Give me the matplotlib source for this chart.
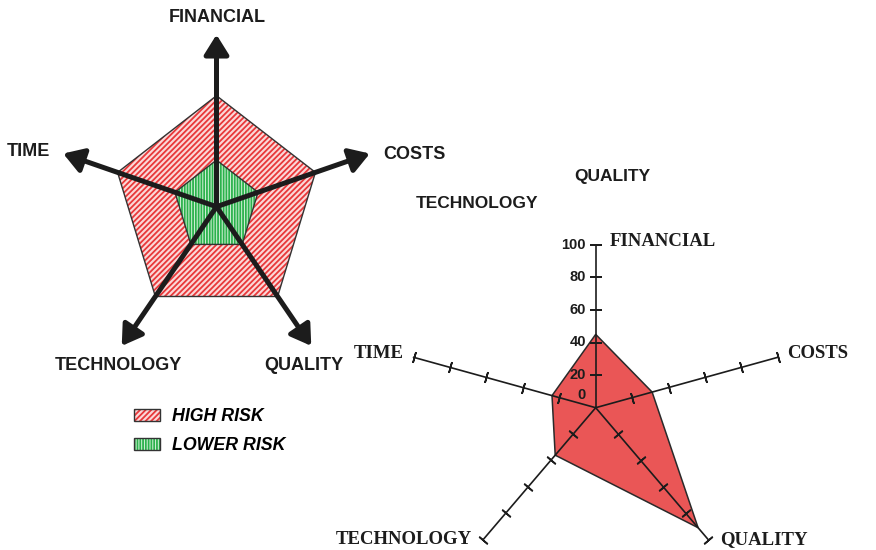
import numpy as np
import matplotlib
matplotlib.use("Agg")
import matplotlib.pyplot as plt
from matplotlib.patches import Polygon

# --- data ---------------------------------------------------------------
categories = ["FINANCIAL", "COSTS", "QUALITY", "TECHNOLOGY", "TIME"]
high_risk = [100, 100, 100, 100, 100]
lower_risk = [42, 42, 42, 42, 42]
scores = [45, 31, 91, 36, 24]
scale_ticks = [0, 20, 40, 60, 80, 100]
legend_labels = ["HIGH RISK", "LOWER RISK"]
stray_labels = ["QUALITY", "TECHNOLOGY"]

SANS = "Liberation Sans"
SERIF = "Liberation Serif"
INK = "#1c1c1c"
W, H = 876, 550

angles = np.radians(90 - 72 * np.arange(len(categories)))

plt.rcParams["hatch.linewidth"] = 1.3
fig = plt.figure(figsize=(W / 100, H / 100), dpi=100)


def place(cx, cy, sx, sy, xlim, ylim):
    # axes whose data origin sits at pixel (cx, cy), sx/sy pixels per unit
    left, right = cx + xlim[0] * sx, cx + xlim[1] * sx
    top, bottom = cy - ylim[1] * sy, cy - ylim[0] * sy
    ax = fig.add_axes([left / W, 1 - bottom / H, (right - left) / W, (bottom - top) / H])
    ax.set_xlim(xlim)
    ax.set_ylim(ylim)
    ax.axis("off")
    return ax


def xy(values, r=None):
    v = np.asarray(values if r is None else [r] * len(angles), dtype=float)
    return np.column_stack([v * np.cos(angles), v * np.sin(angles)])


def filled(pts, face, hatch_col, hatch, z):
    # hatched fill (hatch takes the edge colour) plus a thin dark outline
    return (Polygon(pts, closed=True, facecolor=face, edgecolor=hatch_col, lw=0, hatch=hatch, zorder=z),
            Polygon(pts, closed=True, fill=False, edgecolor="#333333", lw=1.0, zorder=z + 0.5))


# --- left: risk pentagons with arrows -----------------------------------
axl = place(216.5, 206.7, 1.04, 1.11, (-200, 200), (-170, 180))

RED_FACE, RED_HATCH = "#fbd8d8", "#e8383a"
GRN_FACE, GRN_HATCH = "#d8f2dc", "#2bb24c"
for p in filled(xy(high_risk), RED_FACE, RED_HATCH, "//////", 1) + \
        filled(xy(lower_risk), GRN_FACE, GRN_HATCH, "||||||", 2):
    axl.add_patch(p)

for tip in xy(None, r=155):
    axl.annotate("", xy=tip, xytext=(0, 0), zorder=5,
                 arrowprops=dict(arrowstyle="-|>,head_length=0.8,head_width=0.5",
                                 mutation_scale=15, lw=3.6, color=INK,
                                 shrinkA=0, shrinkB=0))

left_label_pos = [(0.5, 170), (190, 47), (84, -143), (-94, -143), (-181, 50)]
for name, (lx, ly) in zip(categories, left_label_pos):
    axl.text(lx, ly, name, ha="center", va="center", fontsize=13,
             fontweight="bold", family=SANS, color=INK)

# legend
handles = [filled([[0, 0]], RED_FACE, RED_HATCH, "//////", 1),
           filled([[0, 0]], GRN_FACE, GRN_HATCH, "||||||", 1)]
fig.legend(handles, legend_labels,
           loc="upper left", bbox_to_anchor=(134 / W, 1 - 408 / H),
           frameon=False, borderpad=0, borderaxespad=0,
           handlelength=1.45, handleheight=0.7, handletextpad=0.7, labelspacing=0.7,
           prop=dict(family=SANS, weight="bold", style="italic", size=12.8))

# stray labels floating between the charts
fig.text(612 / W, 1 - 176 / H, stray_labels[0], ha="center", va="center", fontsize=12.5,
         fontweight="bold", family=SANS, color=INK)
fig.text(477.5 / W, 1 - 204 / H, stray_labels[1], ha="center", va="center", fontsize=12.5,
         fontweight="bold", family=SANS, color=INK)

# --- right: scored radar ------------------------------------------------
sx, sy = 1.914, 1.63
axr = place(595.7, 407.7, sx, sy, (-120, 120), (-85, 105))

axr.add_patch(Polygon(xy(scores), closed=True, facecolor="#ea5656", edgecolor="#2a2a2a",
                      lw=1.1, zorder=1))

for a in angles:
    axr.plot([0, 100 * np.cos(a)], [0, 100 * np.sin(a)], color=INK, lw=1.2, zorder=3)
    vis = np.degrees(np.arctan2(sy * np.sin(a), sx * np.cos(a)))
    t = np.array(scale_ticks[1:], dtype=float)
    axr.plot(t * np.cos(a), t * np.sin(a), ls="none", marker=(2, 2, vis),
             markersize=8, mew=1.2, color=INK, zorder=3)

for v in scale_ticks:
    axr.annotate(str(v), xy=(0, v), xytext=(-7, 9 if v == 0 else 0), textcoords="offset points",
                 ha="right", va="center", fontsize=10.5, fontweight="bold", family=SANS, color=INK)

right_label_pos = [(7.5, 102), (100, 33), (65, -81), (-64.5, -81), (-100.5, 33)]
right_label_ha = ["left", "left", "left", "right", "right"]
for name, (lx, ly), ha in zip(categories, right_label_pos, right_label_ha):
    axr.text(lx, ly, name, ha=ha, va="center", fontsize=13.5, fontweight="bold",
             family=SERIF, color=INK)

fig.savefig("out.png", dpi=100)
